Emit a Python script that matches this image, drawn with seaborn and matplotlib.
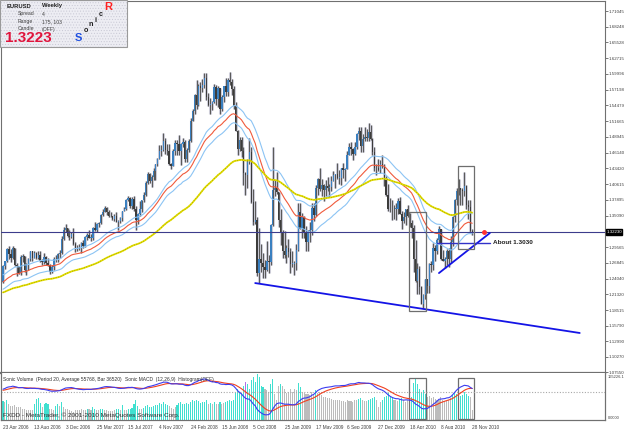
import numpy as np
import pandas as pd
import matplotlib
matplotlib.use("Agg")
import matplotlib.pyplot as plt
import seaborn as sns
from matplotlib.patches import Rectangle

sns.set_theme(style="white")
plt.rcParams['font.family'] = ['Liberation Sans', 'DejaVu Sans']
plt.rcParams['hatch.linewidth'] = 0.4

# ---------------- data (weekly EURUSD, bar 0 = 23 Apr 2006) ----------------
first_open = 1.2340
close = [
1.2625,1.2710,1.2920,1.2830,1.2760,1.2940,1.2640,1.2620,1.2510,1.2790,
1.2800,1.2560,1.2650,1.2750,1.2880,1.2760,1.2850,1.2760,1.2820,1.2710,
1.2690,1.2790,1.2680,1.2640,1.2520,1.2600,1.2740,1.2740,1.2830,1.2860,
1.3100,1.3250,1.3290,1.3150,1.3130,1.3190,1.3010,1.2930,1.2950,1.2960,
1.3030,1.2970,1.3140,1.3170,1.3120,1.3120,1.3300,1.3260,1.3360,1.3380,
1.3520,1.3580,1.3650,1.3580,1.3510,1.3500,1.3450,1.3510,1.3400,1.3410,
1.3460,1.3600,1.3630,1.3790,1.3820,1.3680,1.3800,1.3620,1.3440,1.3540,
1.3630,1.3780,1.3880,1.4080,1.4240,1.4120,1.4190,1.4300,1.4420,1.4500,
1.4640,1.4660,1.4820,1.4670,1.4650,1.4420,1.4380,1.4650,1.4780,1.4760,
1.4650,1.4770,1.4810,1.4510,1.4670,1.4830,1.5180,1.5350,1.5630,1.5450,
1.5780,1.5750,1.5810,1.5930,1.5600,1.5460,1.5470,1.5500,1.5770,1.5560,
1.5750,1.5380,1.5600,1.5790,1.5680,1.5890,1.5850,1.5730,1.5440,1.5000,
1.4680,1.4840,1.4650,1.4260,1.4220,1.4450,1.4620,1.3750,1.3390,1.3430,
1.2500,1.2750,1.2680,1.2600,1.2550,1.2710,1.2700,1.3350,1.3960,1.4000,
1.3920,1.3430,1.3200,1.2880,1.2810,1.2940,1.2870,1.2660,1.2660,1.2670,
1.2900,1.3580,1.3280,1.3480,1.3230,1.3040,1.3240,1.3250,1.3640,1.3520,
1.3990,1.4150,1.3970,1.4050,1.3960,1.4030,1.3990,1.4010,1.4120,1.4220,
1.4240,1.4170,1.4180,1.4340,1.4320,1.4330,1.4580,1.4710,1.4680,1.4590,
1.4710,1.4950,1.5000,1.4730,1.4860,1.4900,1.4870,1.4980,1.4860,1.4620,
1.4340,1.4340,1.4320,1.4410,1.4380,1.4140,1.3870,1.3620,1.3630,1.3620,
1.3630,1.3630,1.3770,1.3530,1.3410,1.3480,1.3620,1.3500,1.3380,1.3290,
1.2750,1.2370,1.2570,1.2260,1.1960,1.2110,1.2390,1.2270,1.2660,1.2640,
1.2950,1.2890,1.3080,1.3280,1.2750,1.2710,1.2750,1.2890,1.2740,1.3050,
1.3490,1.3780,1.3950,1.3990,1.3960,1.3940,1.4030,1.3690,1.3660,1.3240,
1.3223]
high = [
1.2640,1.2720,1.2940,1.2980,1.2930,1.2980,1.2950,1.2680,1.2630,1.2810,
1.2830,1.2800,1.2670,1.2760,1.2880,1.2890,1.2880,1.2870,1.2890,1.2880,
1.2740,1.2850,1.2800,1.2760,1.2660,1.2640,1.2780,1.2810,1.2850,1.2910,
1.3150,1.3310,1.3370,1.3300,1.3250,1.3220,1.3290,1.3040,1.3000,1.3020,
1.3050,1.3080,1.3150,1.3200,1.3260,1.3190,1.3310,1.3390,1.3380,1.3390,
1.3530,1.3620,1.3680,1.3670,1.3610,1.3570,1.3510,1.3530,1.3580,1.3440,
1.3480,1.3600,1.3660,1.3800,1.3850,1.3840,1.3840,1.3850,1.3680,1.3550,
1.3760,1.3790,1.3930,1.4120,1.4280,1.4260,1.4230,1.4350,1.4420,1.4520,
1.4750,1.4750,1.4970,1.4880,1.4770,1.4760,1.4440,1.4680,1.4840,1.4840,
1.4920,1.4790,1.4880,1.4840,1.4700,1.4850,1.5230,1.5390,1.5640,1.5900,
1.5820,1.5850,1.5910,1.6020,1.6020,1.5660,1.5580,1.5530,1.5820,1.5810,
1.5790,1.5760,1.5630,1.5790,1.5920,1.5930,1.6040,1.5910,1.5780,1.5500,
1.5020,1.4900,1.4900,1.4720,1.4280,1.4510,1.4870,1.4710,1.3980,1.3770,
1.3480,1.3290,1.3020,1.2860,1.2730,1.3070,1.2810,1.3370,1.4720,1.4130,
1.4270,1.3930,1.3620,1.3250,1.3240,1.3000,1.3100,1.2950,1.2890,1.2720,
1.3010,1.3740,1.3740,1.3550,1.3500,1.3330,1.3260,1.3390,1.3740,1.3740,
1.4050,1.4170,1.4340,1.4160,1.4060,1.4130,1.4190,1.4070,1.4200,1.4300,
1.4250,1.4440,1.4320,1.4350,1.4430,1.4340,1.4650,1.4780,1.4800,1.4700,
1.4800,1.4960,1.5060,1.5060,1.4940,1.5060,1.5030,1.5140,1.5100,1.4880,
1.4720,1.4410,1.4510,1.4480,1.4580,1.4410,1.4210,1.4060,1.3820,1.3790,
1.3700,1.3740,1.3820,1.3840,1.3590,1.3580,1.3630,1.3690,1.3560,1.3430,
1.3340,1.3090,1.2680,1.2620,1.2280,1.2130,1.2400,1.2400,1.2680,1.2720,
1.3030,1.2990,1.3110,1.3330,1.3280,1.2900,1.2780,1.2920,1.2940,1.3160,
1.3500,1.3800,1.4000,1.4160,1.4000,1.4000,1.4280,1.4040,1.3790,1.3790,
1.3270]
low = [
1.2330,1.2580,1.2700,1.2750,1.2690,1.2740,1.2620,1.2450,1.2480,1.2460,
1.2700,1.2520,1.2460,1.2560,1.2720,1.2710,1.2760,1.2740,1.2750,1.2700,
1.2640,1.2660,1.2650,1.2630,1.2480,1.2500,1.2550,1.2700,1.2700,1.2760,
1.2830,1.3090,1.3230,1.3130,1.3080,1.3120,1.3000,1.2870,1.2880,1.2900,
1.2860,1.2950,1.2960,1.3080,1.3110,1.3070,1.3090,1.3240,1.3230,1.3310,
1.3360,1.3500,1.3580,1.3520,1.3480,1.3480,1.3430,1.3410,1.3390,1.3260,
1.3380,1.3420,1.3590,1.3610,1.3760,1.3640,1.3620,1.3600,1.3260,1.3370,
1.3500,1.3580,1.3750,1.3860,1.4060,1.4090,1.4020,1.4130,1.4140,1.4380,
1.4500,1.4560,1.4650,1.4600,1.4580,1.4400,1.4330,1.4380,1.4580,1.4580,
1.4570,1.4400,1.4720,1.4460,1.4450,1.4630,1.4800,1.5170,1.5300,1.5380,
1.5430,1.5530,1.5680,1.5760,1.5550,1.5440,1.5290,1.5360,1.5490,1.5450,
1.5420,1.5300,1.5350,1.5510,1.5620,1.5620,1.5810,1.5630,1.5390,1.4990,
1.4580,1.4650,1.4540,1.4050,1.3880,1.4000,1.4420,1.3730,1.3350,1.3370,
1.2450,1.2330,1.2520,1.2420,1.2420,1.2530,1.2510,1.2640,1.3330,1.3860,
1.3890,1.3310,1.3000,1.2770,1.2770,1.2670,1.2790,1.2510,1.2610,1.2460,
1.2560,1.2880,1.3300,1.3120,1.3110,1.2890,1.2890,1.3050,1.3170,1.3420,
1.3500,1.3880,1.3950,1.3850,1.3760,1.3850,1.3950,1.3830,1.3940,1.4110,
1.3990,1.4160,1.4070,1.4050,1.4170,1.4120,1.4330,1.4570,1.4580,1.4480,
1.4580,1.4680,1.4840,1.4630,1.4630,1.4830,1.4820,1.4830,1.4840,1.4580,
1.4300,1.4220,1.4300,1.4260,1.4340,1.4030,1.3850,1.3600,1.3580,1.3440,
1.3450,1.3440,1.3530,1.3530,1.3270,1.3380,1.3340,1.3480,1.3310,1.3110,
1.2520,1.2350,1.2140,1.2140,1.1960,1.1880,1.2040,1.2150,1.2150,1.2520,
1.2560,1.2710,1.2830,1.3030,1.2730,1.2720,1.2590,1.2640,1.2610,1.2680,
1.2970,1.3400,1.3700,1.3870,1.3700,1.3700,1.3860,1.3620,1.3450,1.3220,
1.3170]
volume_k = [
68,62,72,58,50,48,52,46,44,47,
40,38,36,35,34,36,58,75,78,60,
45,56,60,58,40,38,36,50,55,48,
62,45,40,38,36,30,28,34,36,35,
38,36,35,40,38,36,45,40,36,34,
38,40,36,34,33,32,30,35,38,40,
36,52,35,36,40,38,42,55,70,48,
40,38,42,48,52,45,44,48,52,54,
60,55,62,58,52,50,42,38,45,52,
60,62,55,58,60,56,64,70,68,72,
66,60,62,64,70,58,60,55,62,58,
56,62,58,60,64,66,72,68,70,96,
110,100,95,120,135,125,110,140,150,135,
160,150,120,115,110,105,100,125,145,90,
70,120,125,118,110,95,100,108,100,110,
105,130,115,100,95,92,90,88,100,92,
105,95,100,88,82,80,78,76,74,72,
70,72,70,68,66,65,70,68,66,64,
70,72,74,78,70,68,66,72,74,78,
80,70,45,65,70,80,85,95,85,80,
70,72,68,75,78,70,65,70,75,80,
130,145,125,110,100,105,90,80,85,78,
80,75,70,72,80,70,66,68,70,78,
88,95,92,90,85,88,98,90,85,80,
36.52]
climax_bar = 124

date_labels = ['23 Apr 2006', '13 Aug 2006', '3 Dec 2006', '25 Mar 2007', '15 Jul 2007',
               '4 Nov 2007', '24 Feb 2008', '15 Jun 2008', '5 Oct 2008', '25 Jan 2009',
               '17 May 2009', '6 Sep 2009', '27 Dec 2009', '18 Apr 2010', '8 Aug 2010',
               '28 Nov 2010']
date_label_bars = [0, 16, 32, 48, 64, 80, 96, 112, 128, 144, 160, 176, 192, 208, 224, 240]
price_ticks = [1.71045, 1.68248, 1.65528, 1.62715, 1.59996, 1.57198, 1.54479, 1.51665,
               1.48945, 1.46140, 1.43420, 1.40615, 1.37895, 1.35090, 1.29565, 1.26845,
               1.24040, 1.21320, 1.18515, 1.15790, 1.12990, 1.10270, 1.07550]
current_price = 1.3223
about_price = 1.3030
# annotations (bar index, price)
trend_long_x = [129, 295]
trend_long_y = [1.2325, 1.1448]
trend_short_x = [223, 249]
trend_short_y = [1.2501, 1.3203]
about_x = [222, 249]
box1 = (207.7, 216.4, 1.1834, 1.3571)
box2 = (232.7, 240.9, 1.2922, 1.4378)
# EMA seeds (values before first bar)
seed34_close, seed34_high, seed34_low, seed89 = 1.233, 1.246, 1.221, 1.215
seed12, seed26, seed_sig = 1.228, 1.220, 0.006

# ---------------- derived ----------------
c = np.array(close); h = np.array(high); l = np.array(low)
o = np.r_[first_open, c[:-1]]
h = np.maximum(h, np.maximum(o, c)); l = np.minimum(l, np.minimum(o, c))
n = len(c)
idx = np.arange(n)

def ema(vals, span, seed):
    s = pd.Series(np.r_[seed, vals]).ewm(span=span, adjust=False).mean()
    return s.values[1:]

ma_c = ema(c, 34, seed34_close)
ma_h = ema(h, 34, seed34_high)
ma_l = ema(l, 34, seed34_low)
ma_89 = ema(c, 89, seed89)
macd = ema(c, 12, seed12) - ema(c, 26, seed26)
sig = ema(macd, 9, seed_sig)
vol = np.array(volume_k) * 1000
vavg = pd.Series(vol).rolling(20, min_periods=1).mean().values

# ---------------- figure ----------------
W, H = 625, 429
fig = plt.figure(figsize=(W / 100, H / 100), dpi=100)
fig.patch.set_facecolor('white')
L, R = 1, 605
top_main, bot_main, bot_ind = 0.5, 373, 420
ax = fig.add_axes([L / W, 1 - bot_main / H, (R - L) / W, (bot_main - top_main) / H])
axv = fig.add_axes([L / W, 1 - bot_ind / H, (R - L) / W, (bot_ind - bot_main) / H])
xlim = ((L - 3) / 1.955, (R - 3) / 1.955)
TFS = 3.2

# candles
ax.vlines(idx, l, h, color='#d4d4e0', lw=2.2, zorder=1)
ax.vlines(idx, l, h, color='#5a5a5a', lw=0.8, zorder=2)
up = c >= o
body_col = np.where(up, '#3a80c0', '#3c3c3c')
ax.bar(idx, np.maximum(np.abs(c - o), 0.0012), bottom=np.minimum(o, c), width=0.7,
       color=body_col, linewidth=0, zorder=3)

# Sonic R dragon
sns.lineplot(x=idx, y=ma_h, ax=ax, color='#8cc4f4', lw=0.8, zorder=4)
sns.lineplot(x=idx, y=ma_l, ax=ax, color='#8cc4f4', lw=0.8, zorder=4)
sns.lineplot(x=idx, y=ma_c, ax=ax, color='#f05a3c', lw=0.8, zorder=4)
sns.lineplot(x=idx, y=ma_89, ax=ax, color='#e4de00', lw=1.3, zorder=4)
ax.plot(idx, ma_89, color='#9c9c00', lw=0.6, ls=(0, (1, 2)), zorder=4)

# lines & annotations
ax.axhline(current_price, color='#3c3c8c', lw=0.8, zorder=5)
ax.plot(trend_long_x, trend_long_y, color='#1414e6', lw=1.3, zorder=6)
ax.plot(trend_short_x, trend_short_y, color='#1414e6', lw=1.3, zorder=6)
ax.plot(about_x, [about_price, about_price], color='#3232c8', lw=1.0, zorder=6)
ax.text(about_x[1] + 1.5, about_price, 'About 1.3030', fontsize=4.6, fontweight='bold',
        va='center', ha='left', color='#202020', zorder=7)
ax.plot([about_x[1] - 3], [current_price], 'o', color='#ff3030', ms=2.5, zorder=7)
for (x0, x1, y0, y1) in (box1, box2):
    ax.add_patch(Rectangle((x0, y0), x1 - x0, y1 - y0, fill=False, ec='#6e6e6e', lw=0.9, zorder=6))

ax.set_xlim(*xlim)
ax.set_ylim(1.0745, 1.7290)
ax.set_xticks([])
ax.yaxis.tick_right()
ax.set_yticks(price_ticks)
ax.set_yticklabels([f'{v:.5f}' for v in price_ticks])
ax.tick_params(axis='y', labelsize=TFS, length=2, width=0.5, pad=0.8, colors='#404040', direction='out')
for sp in ax.spines.values():
    sp.set_color('#707070'); sp.set_linewidth(0.8)
ax.spines['bottom'].set_linewidth(1.6)
ax.text(1.002, current_price, '1.32230', transform=ax.get_yaxis_transform(), fontsize=TFS,
        color='white', va='center', ha='left',
        bbox=dict(boxstyle='square,pad=0.12', fc='black', ec='black'), zorder=10, clip_on=False)

# ---------------- indicator panel ----------------
vcol = np.where(vol >= vavg, '#40e0d0', '#bcbcbc').astype(object)
vcol[climax_bar] = '#b070e8'
axv.bar(idx, vol, width=0.55, color=list(vcol), linewidth=0)
axv.set_xlim(*xlim)
axv.set_ylim(0, 165226)
axm = axv.twinx()
axm.axhline(0, color='#a8a8a8', lw=0.8, ls=(0, (1, 1.5)))
for x0, x1 in ((box1[0], box1[1]), (box2[0], box2[1])):
    axm.add_patch(Rectangle((x0, -0.0845), x1 - x0, 0.13, fill=False, ec='#6e6e6e', lw=0.9))
sns.lineplot(x=idx, y=sig, ax=axm, color='#f04020', lw=0.8)
sns.lineplot(x=idx, y=macd, ax=axm, color='#3c3cf0', lw=0.8)
axm.set_ylim(-0.0865, 0.061)
axm.set_xlim(*xlim)
axm.set_yticks([]); axm.set_ylabel('')
axv.set_yticks([])
axv.set_xticks(date_label_bars)
axv.set_xticklabels(date_labels, ha='left')
axv.tick_params(axis='x', labelsize=3.4, length=2.5, width=0.5, pad=1.2, colors='#404040', direction='out')
for a in (axv, axm):
    for sp in a.spines.values():
        sp.set_color('#707070'); sp.set_linewidth(0.8)
    a.spines['top'].set_visible(False)
axv.text(1.004, 0.96, '165226.1', transform=axv.transAxes, fontsize=2.9, color='#404040', va='top', ha='left')
axv.text(1.004, 0.0, '0.0000', transform=axv.transAxes, fontsize=2.9, color='#404040', va='bottom', ha='left')

def fx(x): return x / W
def fy(y): return 1 - y / H

fig.text(fx(3), fy(380), 'Sonic Volume  (Period 20, Average 55768, Bar 36520)', fontsize=3.5, color='#303030', va='center')
fig.text(fx(125), fy(380), 'Sonic MACD  (12,26,9)  Histogram(OFF)', fontsize=3.5, color='#303030', va='center')
fig.text(fx(3), fy(415), 'FXDD - MetaTrader, \u00a9 2001-2010 MetaQuotes Software Corp.', fontsize=4.6, color='#303030', va='center')

# ---------------- info box ----------------
fig.patches.append(Rectangle((0, fy(47)), fx(127), 47 / H, transform=fig.transFigure,
                             fc='#ededf3', ec='#c8c8d4', hatch='......', lw=0, zorder=5))
fig.patches.append(Rectangle((0, fy(47)), fx(127), 47 / H, transform=fig.transFigure,
                             fill=False, ec='#9a9a9a', lw=0.8, zorder=5))
fig.text(fx(7), fy(6), 'EURUSD', fontsize=4.2, fontweight='bold', color='#202020', va='center', zorder=6)
fig.text(fx(42), fy(6), 'Weekly', fontsize=4.2, fontweight='bold', color='#202020', va='center', zorder=6)
for yy, k, v in ((14, 'Spread', '4'), (22, 'Range', '175, 103'), (29, 'Candle', '(OFF)')):
    fig.text(fx(18), fy(yy), k, fontsize=3.7, color='#404040', va='center', zorder=6)
    fig.text(fx(42), fy(yy), v, fontsize=3.7, color='#404040', va='center', zorder=6)
fig.text(fx(5), fy(38.5), '1.3223', fontsize=11, fontweight='bold', color='#e0143c', va='center', zorder=6)
for (xx, yy, ch, col, fs) in ((78, 38, 'S', '#2050e0', 8), (86, 31, 'o', '#202020', 5.2),
                              (91, 25, 'n', '#202020', 5.2), (96, 20, 'i', '#202020', 5.2),
                              (101, 14, 'c', '#202020', 5.2), (108, 7, 'R', '#ff2020', 8)):
    fig.text(fx(xx), fy(yy), ch, fontsize=fs, fontweight='bold', color=col, ha='center', va='center', zorder=6)

fig.savefig('out.png', dpi=100, facecolor='white')
